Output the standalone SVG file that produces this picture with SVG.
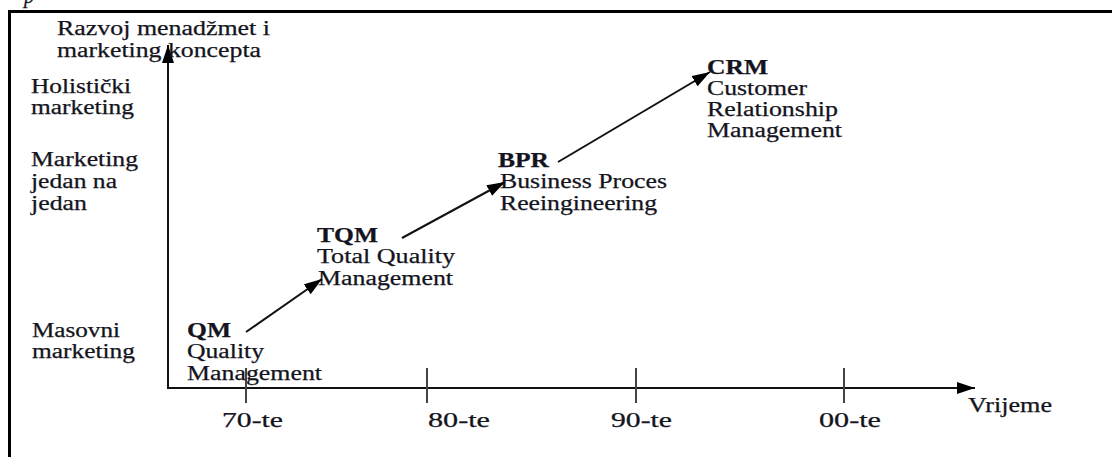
<svg xmlns="http://www.w3.org/2000/svg" width="1112" height="457" viewBox="0 0 1112 457">
  <style>
    text { font-family: "Liberation Serif", "Times New Roman", serif; font-size: 20.5px; fill: #141420; stroke: #141420; stroke-width: 0.25; }
    .b { font-weight: bold; }
    .it { font-style: italic; }
    .axis { stroke: #111; stroke-width: 2; fill: none; }
    .tick { stroke: #444; stroke-width: 2; }
    .link { stroke: #111; stroke-width: 2; fill: none; }
    .frame { stroke: #000; stroke-width: 3; fill: none; }
  </style>
  <defs>
    <marker id="head" markerUnits="userSpaceOnUse" markerWidth="18" markerHeight="12" refX="18" refY="6" orient="auto">
      <path d="M0,0 L18,6 L0,12 z" fill="#000"/>
    </marker>
  </defs>

  <rect width="1112" height="457" fill="#fff"/>

  <!-- caption fragment above the frame -->
  <text class="it" x="24" y="3">p</text>

  <!-- outer frame, open beyond the right and bottom edges -->
  <rect class="frame" x="9.5" y="11.5" width="1110" height="460"/>

  <!-- axes -->
  <g id="axes">
    <line class="axis" x1="168" y1="389" x2="168" y2="45" marker-end="url(#head)"/>
    <line class="axis" x1="167" y1="388" x2="975" y2="388" marker-end="url(#head)"/>
    <line class="tick" x1="246" y1="368" x2="246" y2="403"/>
    <line class="tick" x1="427" y1="368" x2="427" y2="403"/>
    <line class="tick" x1="636" y1="368" x2="636" y2="403"/>
    <line class="tick" x1="844" y1="368" x2="844" y2="403"/>
  </g>

  <!-- axis titles -->
  <g id="y-title">
    <text x="57" y="35" textLength="213" lengthAdjust="spacingAndGlyphs">Razvoj menadžmet i</text>
    <text x="57" y="57" textLength="204" lengthAdjust="spacingAndGlyphs">marketing koncepta</text>
  </g>
  <g id="x-title">
    <text x="968" y="412" textLength="84" lengthAdjust="spacingAndGlyphs">Vrijeme</text>
  </g>

  <!-- decade labels -->
  <g id="decades">
    <text x="222" y="427" textLength="61" lengthAdjust="spacingAndGlyphs">70-te</text>
    <text x="428" y="427" textLength="62" lengthAdjust="spacingAndGlyphs">80-te</text>
    <text x="611" y="427" textLength="61" lengthAdjust="spacingAndGlyphs">90-te</text>
    <text x="819" y="427" textLength="62" lengthAdjust="spacingAndGlyphs">00-te</text>
  </g>

  <!-- marketing levels on the vertical axis -->
  <g id="level-holistic">
    <text x="31" y="93" textLength="100" lengthAdjust="spacingAndGlyphs">Holistički</text>
    <text x="31" y="114" textLength="103" lengthAdjust="spacingAndGlyphs">marketing</text>
  </g>
  <g id="level-one-to-one">
    <text x="31" y="166" textLength="107" lengthAdjust="spacingAndGlyphs">Marketing</text>
    <text x="31" y="188" textLength="86" lengthAdjust="spacingAndGlyphs">jedan na</text>
    <text x="31" y="210" textLength="56" lengthAdjust="spacingAndGlyphs">jedan</text>
  </g>
  <g id="level-mass">
    <text x="32" y="337" textLength="88" lengthAdjust="spacingAndGlyphs">Masovni</text>
    <text x="32" y="358" textLength="103" lengthAdjust="spacingAndGlyphs">marketing</text>
  </g>

  <!-- concept nodes -->
  <g id="qm">
    <text class="b" x="187" y="337" textLength="44" lengthAdjust="spacingAndGlyphs">QM</text>
    <text x="187" y="358" textLength="77" lengthAdjust="spacingAndGlyphs">Quality</text>
    <text x="187" y="380" textLength="135" lengthAdjust="spacingAndGlyphs">Management</text>
  </g>
  <g id="tqm">
    <text class="b" x="317" y="242" textLength="61" lengthAdjust="spacingAndGlyphs">TQM</text>
    <text x="317" y="263" textLength="138" lengthAdjust="spacingAndGlyphs">Total Quality</text>
    <text x="318" y="285" textLength="135" lengthAdjust="spacingAndGlyphs">Management</text>
  </g>
  <g id="bpr">
    <text class="b" x="498" y="167" textLength="51" lengthAdjust="spacingAndGlyphs">BPR</text>
    <text x="500" y="188" textLength="167" lengthAdjust="spacingAndGlyphs">Business Proces</text>
    <text x="500" y="210" textLength="157" lengthAdjust="spacingAndGlyphs">Reeingineering</text>
  </g>
  <g id="crm">
    <text class="b" x="707" y="74" textLength="61" lengthAdjust="spacingAndGlyphs">CRM</text>
    <text x="707" y="95" textLength="100" lengthAdjust="spacingAndGlyphs">Customer</text>
    <text x="707" y="116" textLength="131" lengthAdjust="spacingAndGlyphs">Relationship</text>
    <text x="707" y="137" textLength="135" lengthAdjust="spacingAndGlyphs">Management</text>
  </g>

  <!-- evolution arrows -->
  <g id="connectors">
    <line class="link" x1="246" y1="332" x2="322" y2="279" marker-end="url(#head)"/>
    <line class="link" x1="402" y1="238" x2="505" y2="182" marker-end="url(#head)"/>
    <line class="link" x1="558" y1="162" x2="710" y2="72" marker-end="url(#head)"/>
  </g>
</svg>
